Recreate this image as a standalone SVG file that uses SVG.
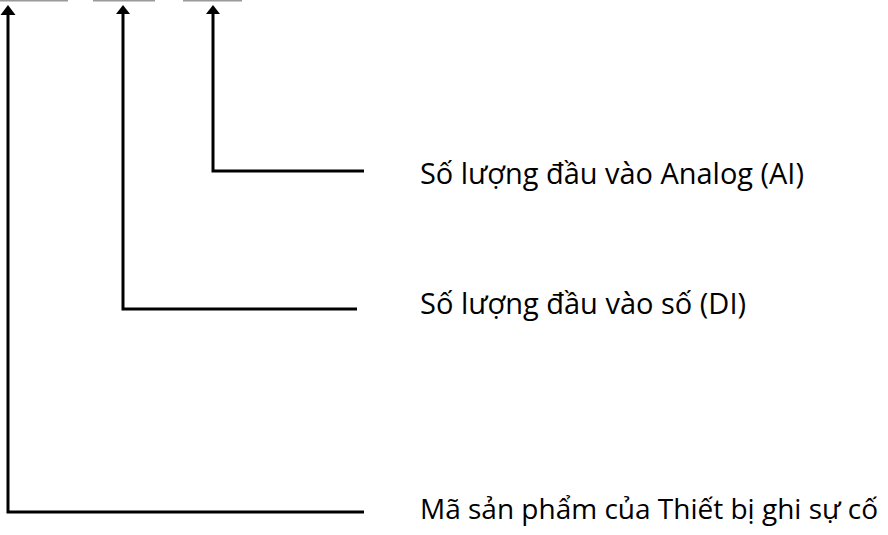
<svg xmlns="http://www.w3.org/2000/svg" width="888" height="535" viewBox="0 0 888 535">
<style>
.top{stroke:#999;stroke-width:2;fill:none}
.conn{stroke:#000;stroke-width:3;fill:none}
.lbl{font-family:"Open Sans","Noto Sans",sans-serif;font-size:29px;fill:#000}
.sm{font-size:28px}
.head{fill:#000}
</style>
<rect width="888" height="535" fill="#fff"/>
<g id="topbars">
<line class="top" x1="0" y1="0.5" x2="68" y2="0.5"/>
<line class="top" x1="93" y1="0.5" x2="155" y2="0.5"/>
<line class="top" x1="183" y1="0.5" x2="242" y2="0.5"/>
</g>
<g id="connectors">
<polyline class="conn" points="364,512 8,512 8,15"/>
<polygon class="head" points="8,5 0.5,15 15.5,15"/>
<polyline class="conn" points="357,309 123,309 123,14"/>
<polygon class="head" points="123,5 116,14 130,14"/>
<polyline class="conn" points="364,171 213,171 213,14"/>
<polygon class="head" points="213,5 206,14 220,14"/>
</g>
<g id="label-ai"><text class="lbl" x="420" y="184" textLength="384" lengthAdjust="spacingAndGlyphs">Số lượng đầu vào Analog (AI)</text></g>
<g id="label-di"><text class="lbl" x="420" y="314">Số lượng đầu vào số (DI)</text></g>
<g id="label-code"><text class="lbl sm" x="420" y="519">Mã sản phẩm của Thiết bị ghi sự cố</text></g>
</svg>
